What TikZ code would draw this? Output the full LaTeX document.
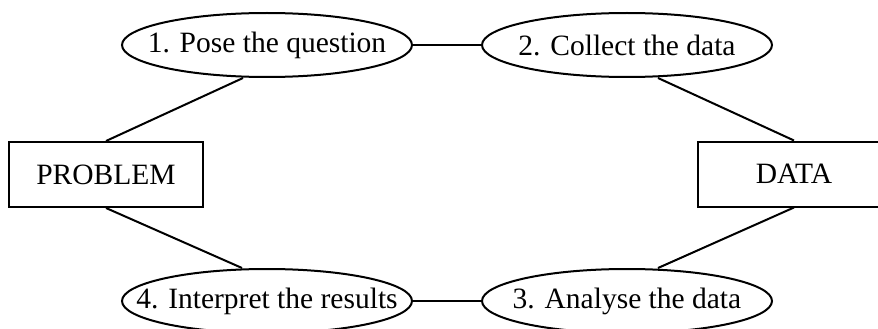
\documentclass[tikz,border=0pt]{standalone}
\usepackage{fontspec}
\setmainfont{Liberation Serif}
\usetikzlibrary{shapes.geometric}
\begin{document}
\begin{tikzpicture}[x=1pt,y=-1pt,
  every node/.style={font=\fontsize{29.5}{34}\selectfont},
  stage/.style={ellipse,draw,line width=2pt,inner xsep=-40pt,inner ysep=-20pt,minimum width=290pt,minimum height=64pt},
  endbox/.style={rectangle,draw,line width=2pt,inner sep=0pt,minimum height=65pt},
  link/.style={line width=2pt}]
\useasboundingbox (0,0) rectangle (878,329);
\clip (0,0) rectangle (878,329);
\node[stage] (E1) at (267,45) {1. Pose the question};
\node[stage] (E2) at (627,45) {2. Collect the data};
\node[stage] (E3) at (627,301) {3. Analyse the data};
\node[stage] (E4) at (267,301) {4. Interpret the results};
\node[endbox,minimum width=194pt] (P) at (106,174.5) {PROBLEM};
\node[endbox,minimum width=192pt] (D) at (794,174) {DATA};
\draw[link] (E1.east) -- (E2.west);
\draw[link] (E4.east) -- (E3.west);
\draw[link] ([xshift=-24pt]E1.south) -- (P.north);
\draw[link] ([xshift=31pt]E2.south) -- (D.north);
\draw[link] (P.south) -- ([xshift=-25pt]E4.north);
\draw[link] (D.south) -- ([xshift=31pt]E3.north);
\end{tikzpicture}
\end{document}
